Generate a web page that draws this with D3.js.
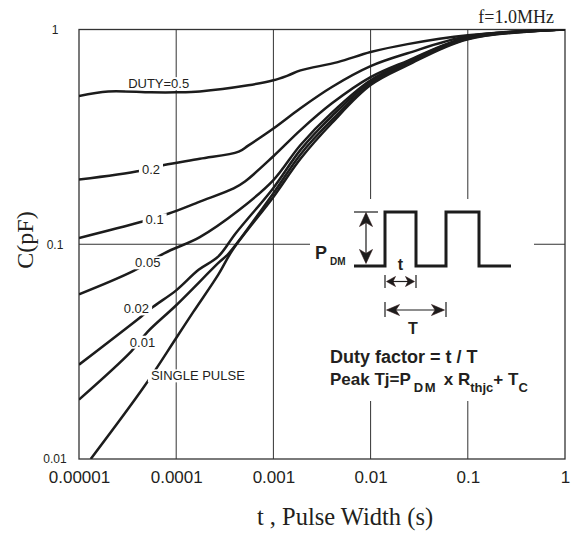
<!DOCTYPE html>
<html>
<head>
<meta charset="utf-8">
<script src="https://cdn.jsdelivr.net/npm/d3@7/dist/d3.min.js"></script>
<style>
body { margin: 0; background: #fff; }
svg { display: block; }
text { font-family: "Liberation Sans", Arial, sans-serif; fill: #231f20; }
.serif { font-family: "Liberation Serif", "Times New Roman", serif; }
</style>
</head>
<body>
<div id="chart"></div>
<script>
// axis ticks
var xTicks = [1e-5, 1e-4, 1e-3, 1e-2, 1e-1, 1];
var xTickLabels = ["0.00001", "0.0001", "0.001", "0.01", "0.1", "1"];
var yTicks = [0.01, 0.1, 1];
var yTickLabels = ["0.01", "0.1", "1"];

// curves (t in s, C in pF)
var names = ["DUTY=0.5", "0.2", "0.1", "0.05", "0.02", "0.01", "SINGLE PULSE"];
var t05 = [1e-5, 2e-5, 5.5e-5, 1e-4, 1.75e-4, 5.5e-4, 1e-3, 1.4e-3, 1.9e-3, 4.6e-3, 0.01, 0.024, 0.1, 1];
var c05 = [0.49, 0.515, 0.51, 0.51, 0.515, 0.55, 0.58, 0.61, 0.645, 0.705, 0.785, 0.855, 0.94, 1];
var t02 = [1e-5, 4.3e-5, 7.5e-5, 1.75e-4, 4.4e-4, 5.5e-4, 1e-3, 1.9e-3, 4e-3, 0.01, 0.024, 0.1, 1];
var c02 = [0.20, 0.22, 0.234, 0.25, 0.27, 0.288, 0.346, 0.43, 0.54, 0.675, 0.775, 0.93, 1];
var t01 = [1e-5, 4.3e-5, 8.4e-5, 1.75e-4, 3.9e-4, 5.1e-4, 1e-3, 1.9e-3, 4e-3, 0.01, 0.024, 0.1, 1];
var c01 = [0.107, 0.127, 0.139, 0.158, 0.182, 0.196, 0.257, 0.34, 0.453, 0.6, 0.715, 0.921, 1];
var t005 = [1e-5, 3.6e-5, 7.6e-5, 1.75e-4, 4.4e-4, 1e-3, 1.9e-3, 4e-3, 0.01, 0.024, 0.1, 1];
var c005 = [0.0585, 0.075, 0.091, 0.108, 0.144, 0.199, 0.29, 0.41, 0.58, 0.708, 0.916, 1];
var t002 = [1e-5, 4.35e-5, 5.75e-5, 1e-4, 1.7e-4, 2.7e-4, 4.1e-4, 1e-3, 1.9e-3, 4e-3, 0.01, 0.024, 0.1, 1];
var c002 = [0.0275, 0.046, 0.051, 0.061, 0.076, 0.0875, 0.1125, 0.183, 0.275, 0.395, 0.57, 0.697, 0.911, 1];
var t001 = [1e-5, 3.45e-5, 5.1e-5, 1e-4, 2.7e-4, 3.5e-4, 1e-3, 1.9e-3, 4e-3, 0.01, 0.024, 0.1, 1];
var c001 = [0.0189, 0.0317, 0.0392, 0.052, 0.0816, 0.091, 0.173, 0.262, 0.379, 0.557, 0.69, 0.906, 1];
var tSingle = [1.32e-5, 4.7e-5, 1e-4, 1.5e-4, 2.7e-4, 3.8e-4, 1e-3, 1.9e-3, 4e-3, 0.01, 0.024, 0.1, 1];
var cSingle = [0.01, 0.0218, 0.0366, 0.0484, 0.072, 0.094, 0.166, 0.25, 0.367, 0.551, 0.682, 0.901, 1];

// where each curve label sits (t, C)
var labelT = [6.6e-5, 5.5e-5, 6.0e-5, 5.1e-5, 3.9e-5, 4.5e-5, 1.67e-4];
var labelC = [0.56, 0.223, 0.130, 0.082, 0.050, 0.035, 0.0244];

var tSeries = [t05, t02, t01, t005, t002, t001, tSingle];
var cSeries = [c05, c02, c01, c005, c002, c001, cSingle];

var width = 571, height = 533;
var pl = 79, pr = 565, pt = 29.5, pb = 459;

var x = d3.scaleLog().domain([1e-5, 1]).range([pl, pr]);
var y = d3.scaleLog().domain([0.01, 1]).range([pb, pt]);

var svg = d3.select("#chart").append("svg")
    .attr("width", width)
    .attr("height", height);

svg.append("defs").append("clipPath").attr("id", "plot")
    .append("rect")
    .attr("x", pl).attr("y", pt)
    .attr("width", pr - pl).attr("height", pb - pt);

// grid
svg.selectAll(".vgrid")
    .data(xTicks.slice(1, -1))
    .enter().append("line")
    .attr("x1", function(d) { return x(d); })
    .attr("x2", function(d) { return x(d); })
    .attr("y1", pt).attr("y2", pb)
    .attr("stroke", "#333").attr("stroke-width", 1);

svg.selectAll(".hgrid")
    .data(yTicks.slice(1, -1))
    .enter().append("line")
    .attr("x1", pl).attr("x2", pr)
    .attr("y1", function(d) { return y(d); })
    .attr("y2", function(d) { return y(d); })
    .attr("stroke", "#333").attr("stroke-width", 1);

// frame
svg.append("rect")
    .attr("x", pl).attr("y", pt)
    .attr("width", pr - pl).attr("height", pb - pt)
    .attr("fill", "none").attr("stroke", "#333").attr("stroke-width", 1.3);

// white box behind the inset diagram
svg.append("rect")
    .attr("x", 310).attr("y", 199).attr("width", 224).attr("height", 202)
    .attr("fill", "#fff");

// axes (labels only)
var xAxis = d3.axisBottom(x)
    .tickValues(xTicks)
    .tickFormat(function(d, i) { return xTickLabels[i]; })
    .tickSize(0).tickPadding(12);
var gx = svg.append("g").attr("transform", "translate(0," + pb + ")").call(xAxis);
gx.select(".domain").remove();
gx.selectAll("text")
    .style("font-family", "\"Liberation Sans\", Arial, sans-serif")
    .style("font-size", "17px").attr("fill", "#231f20");

var yAxis = d3.axisLeft(y)
    .tickValues(yTicks)
    .tickFormat(function(d, i) { return yTickLabels[i]; })
    .tickSize(0);
var gy = svg.append("g").attr("transform", "translate(" + pl + ",0)").call(yAxis);
gy.select(".domain").remove();
gy.selectAll("text")
    .attr("x", 55 - pl)
    .attr("text-anchor", "middle")
    .style("font-family", "\"Liberation Sans\", Arial, sans-serif")
    .style("font-size", "12px").attr("fill", "#231f20");

// curves
var line = d3.line()
    .x(function(d) { return x(d[0]); })
    .y(function(d) { return y(d[1]); })
    .curve(d3.curveCatmullRom.alpha(0.5));

var curves = tSeries.map(function(ts, i) {
    return ts.map(function(t, j) { return [t, cSeries[i][j]]; });
});

svg.append("g").attr("clip-path", "url(#plot)")
    .selectAll("path")
    .data(curves)
    .enter().append("path")
    .attr("d", line)
    .attr("fill", "none")
    .attr("stroke", "#1c1c1c")
    .attr("stroke-width", 2.5)
    .attr("stroke-linejoin", "round");

// curve labels with white backing
var lab = svg.selectAll(".lab")
    .data(names)
    .enter().append("g");
lab.append("rect").attr("fill", "#fff");
lab.append("text")
    .attr("x", function(d, i) { return x(labelT[i]); })
    .attr("y", function(d, i) { return y(labelC[i]); })
    .attr("dy", "0.35em")
    .attr("text-anchor", "middle")
    .style("font-size", "13px")
    .text(function(d) { return d; });
lab.each(function() {
    var g = d3.select(this);
    var b = g.select("text").node().getBBox();
    g.select("rect")
        .attr("x", b.x - 3).attr("y", b.y + 1)
        .attr("width", b.width + 6).attr("height", b.height - 2);
});

// inset diagram
var ink = "#1c1c1c", head = "#2b1414";
var inset = svg.append("g");

inset.append("path")
    .attr("d", "M354,266H385V212H416V266H446V212H479V266H511")
    .attr("fill", "none").attr("stroke", ink).attr("stroke-width", 3)
    .attr("stroke-linejoin", "miter");

function arrowHead(tx, ty, dx, dy, len, half) {
    var bx = tx - dx * len, by = ty - dy * len;
    var nx = tx - dx * len * 0.72, ny = ty - dy * len * 0.72;
    var px = -dy, py = dx;
    inset.append("path")
        .attr("d", "M" + tx + "," + ty +
            "L" + (bx + px * half) + "," + (by + py * half) +
            "L" + nx + "," + ny +
            "L" + (bx - px * half) + "," + (by - py * half) + "Z")
        .attr("fill", ink).attr("stroke", head).attr("stroke-width", 0.6);
}
function seg(x1, y1, x2, y2, w) {
    inset.append("line")
        .attr("x1", x1).attr("y1", y1).attr("x2", x2).attr("y2", y2)
        .attr("stroke", ink).attr("stroke-width", w || 1.2);
}

// P_DM arrow
seg(354, 212, 378, 212, 1.2);
seg(366, 214, 366, 262, 1.2);
arrowHead(366, 212.5, 0, -1, 14, 6.5);
arrowHead(366, 263.5, 0, 1, 14, 6.5);

// t arrow
seg(385, 275, 385, 288);
seg(416, 275, 416, 288);
seg(388, 281.5, 413, 281.5);
arrowHead(386.5, 281.5, -1, 0, 9, 5);
arrowHead(414.5, 281.5, 1, 0, 9, 5);

// T arrow
seg(385, 302, 385, 317);
seg(446, 302, 446, 317);
seg(390, 310, 442, 310);
arrowHead(386.5, 310, -1, 0, 13, 5.5);
arrowHead(444.5, 310, 1, 0, 13, 5.5);

inset.append("text").attr("x", 315).attr("y", 258.5)
    .style("font-size", "18px").style("font-weight", "bold").text("P");
inset.append("text").attr("x", 330).attr("y", 264.5)
    .style("font-size", "10px").style("font-weight", "bold").text("DM");
inset.append("text").attr("x", 400.5).attr("y", 270).attr("text-anchor", "middle")
    .style("font-size", "16px").style("font-weight", "bold").text("t");
inset.append("text").attr("x", 413).attr("y", 334).attr("text-anchor", "middle")
    .style("font-size", "16px").style("font-weight", "bold").text("T");

inset.append("text").attr("x", 330).attr("y", 363)
    .style("font-size", "18px").style("font-weight", "bold")
    .text("Duty factor = t / T");

var peak = inset.append("text").attr("x", 330).attr("y", 385)
    .style("font-size", "17px").style("font-weight", "bold");
peak.append("tspan").text("Peak Tj=P");
peak.append("tspan").attr("dy", 7).attr("dx", 3).style("font-size", "13px")
    .style("letter-spacing", "1.5px").text("DM");
peak.append("tspan").attr("dy", -7).attr("dx", 2).text(" x R");
peak.append("tspan").attr("dy", 7).style("font-size", "13px").text("thjc");
peak.append("tspan").attr("dy", -7).text("+ T");
peak.append("tspan").attr("dy", 7).style("font-size", "13px").text("C");

// titles
svg.append("text").attr("class", "serif")
    .attr("x", 554).attr("y", 23).attr("text-anchor", "end")
    .style("font-size", "18px").text("f=1.0MHz");

svg.append("text").attr("class", "serif")
    .attr("transform", "translate(33,240) rotate(-90)")
    .attr("text-anchor", "middle")
    .style("font-size", "24px").text("C(pF)");

svg.append("text").attr("class", "serif")
    .attr("x", 345).attr("y", 525).attr("text-anchor", "middle")
    .style("font-size", "24.5px").text("t , Pulse Width (s)");
</script>
</body>
</html>
